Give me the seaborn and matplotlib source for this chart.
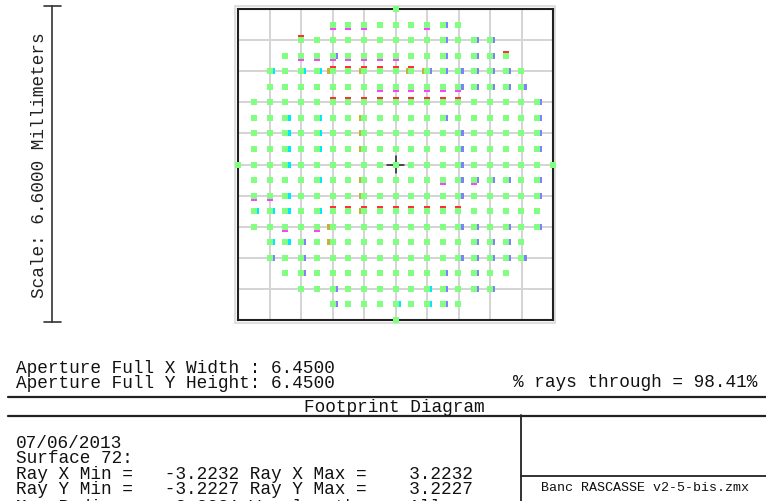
import numpy as np
import pandas as pd
import seaborn as sns
import matplotlib.pyplot as plt
from matplotlib.patches import Rectangle

sns.set_style("white")
plt.rcParams['font.family'] = ['Liberation Mono', 'DejaVu Sans Mono']

# Ray grid: half-width (in ray steps) of each row, from top (+10) to bottom (-10)
row_index = list(range(10, -11, -1))
row_half_width = [0, 4, 6, 7, 8, 8, 9, 9, 9, 9, 10, 9, 9, 9, 9, 8, 8, 7, 6, 4, 0]
ray_step = 0.32232  # mm
half_aperture = 3.225  # mm

# other fields / wavelengths peeking out around the main (green) spots
red_pts = [(-4, 4), (-3, 4), (-2, 4), (-1, 4), (0, 4), (1, 4), (2, 4), (3, 4), (4, 4),
           (-4, -3), (-3, -3), (-2, -3), (-1, -3), (0, -3), (1, -3), (2, -3), (3, -3), (4, -3),
           (-4, 6), (-3, 6), (-2, 6), (-1, 6), (0, 6), (1, 6), (-6, 8), (7, 7)]
magenta_pts = [(-4, 9), (-3, 9), (-2, 9), (2, 9), (-6, 7), (-5, 7), (-4, 7), (-3, 7), (-2, 7),
               (-1, 7), (0, 7), (-1, 5), (0, 5), (1, 5), (2, 5), (3, 5), (4, 5),
               (-9, -2), (-8, -2), (3, -1), (5, -1), (-7, -4), (-5, -4)]
blue_pts = [(3, 9), (3, 8), (5, 8), (6, 8), (-4, 7), (3, 7), (5, 7), (6, 7), (2, 6), (3, 6),
            (4, 6), (5, 6), (6, 6), (7, 6), (4, 5), (5, 5), (6, 5), (7, 5), (8, 5), (9, 4),
            (9, 3), (3, 3), (4, 2), (9, 2), (4, 1), (9, 1), (4, 0), (4, -1), (5, -1), (6, -1),
            (7, -1), (9, -1), (4, -2), (9, -2), (4, -4), (5, -4), (7, -4), (9, -4), (-6, -5),
            (5, -5), (6, -5), (7, -5), (-8, -6), (-6, -6), (4, -6), (5, -6), (6, -6), (7, -6),
            (8, -6), (-6, -7), (3, -7), (5, -7), (-4, -8), (3, -8), (5, -8), (6, -8),
            (-4, -9), (3, -9)]
cyan_pts = [(-8, 6), (-6, 6), (-5, 6), (-7, 3), (-5, 3), (-7, 2), (-5, 2), (-7, 1), (-5, 1),
            (-7, 0), (-5, -1), (-7, -2), (-9, -3), (-8, -3), (-7, -3), (-5, -3), (-8, -5),
            (-7, -5), (2, -8), (0, -9), (2, -9)]
olive_pts = [(-4, 6), (-2, 6), (1, 6), (2, 6), (-2, 3), (-2, 2), (-2, 1), (-2, -1), (-2, -2),
             (-2, -3), (-4, -4), (-4, -5)]

overlays = [
    (red_pts, '#ff3030', 0.0, 0.045),
    (magenta_pts, '#ff40ff', 0.0, -0.045),
    (blue_pts, '#8080ff', 0.045, 0.0),
    (cyan_pts, '#00e8ff', 0.045, 0.0),
    (olive_pts, '#c8b040', -0.045, 0.0),
]

rays = pd.DataFrame(
    [(ix * ray_step, iy * ray_step)
     for iy, w in zip(row_index, row_half_width) for ix in range(-w, w + 1)],
    columns=['x', 'y'])

fig = plt.figure(figsize=(7.66, 5.02), dpi=100)

# background axes in pixel coordinates for the annotation block
bg = fig.add_axes([0, 0, 1, 1])
bg.set_xlim(0, 766)
bg.set_ylim(502, 0)
bg.axis('off')

ax = fig.add_axes([238 / 766, (502 - 321) / 502, 315 / 766, 311 / 502])

for pts, col, dx, dy in overlays:
    df = pd.DataFrame(pts, columns=['ix', 'iy'])
    sns.scatterplot(x=df['ix'] * ray_step + dx, y=df['iy'] * ray_step + dy, ax=ax,
                    marker='s', s=13, color=col, linewidth=0, clip_on=False, zorder=3)

sns.scatterplot(data=rays, x='x', y='y', ax=ax, marker='s', s=13, color='#80ff80',
                linewidth=0, clip_on=False, zorder=4)

# centre cross
ax.plot([-0.18, 0.18], [0, 0], color='#222222', lw=1.1, zorder=2)
ax.plot([0, 0], [-0.18, 0.18], color='#222222', lw=1.1, zorder=2)

ticks = np.linspace(-half_aperture, half_aperture, 11)
ax.set_xlim(-half_aperture, half_aperture)
ax.set_ylim(-half_aperture, half_aperture)
ax.set_xticks(ticks)
ax.set_yticks(ticks)
ax.tick_params(length=0, labelbottom=False, labelleft=False)
ax.set_xlabel('')
ax.set_ylabel('')
ax.grid(True, color='#d4d4d4', lw=1.4)
ax.set_axisbelow(True)
for sp in ax.spines.values():
    sp.set_color('#202020')
    sp.set_linewidth(1.5)

# light outer border around the plot box
bg.add_patch(Rectangle((235, 7), 320, 317, fill=False, edgecolor='#d8d8d8', lw=1.2))

# scale bar
bg.plot([52, 52], [7, 323], color='#333333', lw=1.2)
bg.plot([44, 61], [7, 7], color='#333333', lw=1.2)
bg.plot([44, 61], [323, 323], color='#333333', lw=1.2)
bg.text(40, 165, 'Scale: 6.6000 Millimeters', rotation=90, ha='center', va='center',
        fontsize=12.8, color='#222222')

fs = 12.8
ls = 0.86
aperture_lines = ['Aperture Full X Width : 6.4500',
                  'Aperture Full Y Height: 6.4500']
bg.text(16, 376, '\n'.join(aperture_lines), fontsize=fs, va='center', color='#111111',
        linespacing=ls)
bg.text(757, 383, '% rays through = 98.41%', fontsize=fs, va='center', ha='right', color='#111111')

bg.plot([8, 766], [397.5, 397.5], color='#222222', lw=1.6)
bg.plot([8, 766], [416.5, 416.5], color='#222222', lw=1.6)
bg.plot([521, 521], [416, 502], color='#222222', lw=1.3)
bg.plot([521, 766], [476.5, 476.5], color='#222222', lw=1.3)

bg.text(394, 408, 'Footprint Diagram', fontsize=fs, ha='center', va='center', color='#111111')

info_lines = ['07/06/2013',
              'Surface 72:',
              'Ray X Min =   -3.2232 Ray X Max =    3.2232',
              'Ray Y Min =   -3.2227 Ray Y Max =    3.2227']
bg.text(16, 466.5, '\n'.join(info_lines), fontsize=fs, va='center', color='#111111',
        linespacing=ls)
# last line is cut by the bottom edge in the original export
bg.text(16, 507, 'Max Radius=    3.2231 Wavelength:    All', fontsize=fs, va='center',
        color='#111111')

bg.text(645, 488, 'Banc RASCASSE v2-5-bis.zmx', fontsize=9.6, ha='center', va='center',
        color='#111111')

fig.savefig('out.png', dpi=100)
